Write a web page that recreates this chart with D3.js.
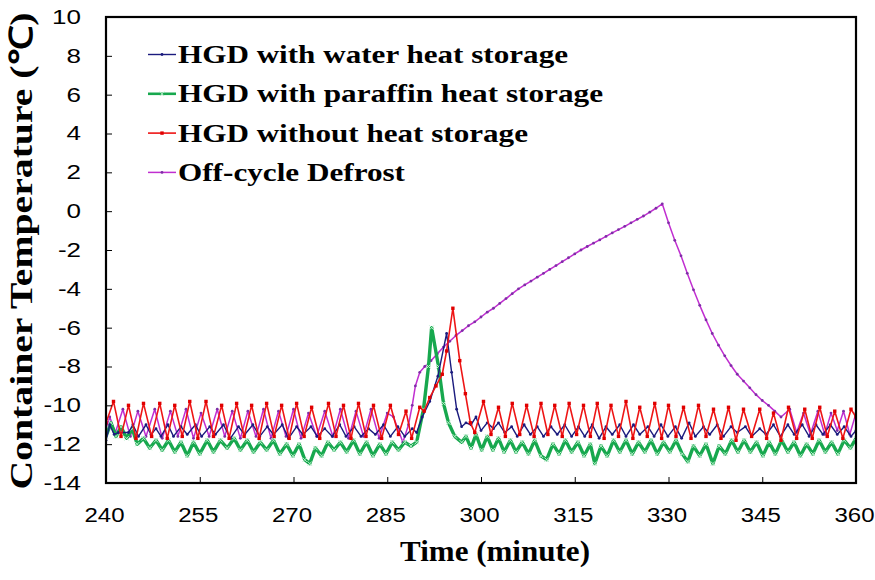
<!DOCTYPE html>
<html lang="en">

<head>
    <meta charset="UTF-8" />
    <title>Container Temperature</title>
    <script src="https://cdn.jsdelivr.net/npm/d3@7"></script>
    <style>
        body { margin: 0; background: #fff; }
        svg { display: block; }
    </style>
</head>

<body>
    <svg width="875" height="580"></svg>
    <script>
        // [time (minute), temperature (C)]
        const waterData = [
            [240.0, -11.8], [240.6, -11.0], [241.3, -11.5], [242.0, -11.4], [243.6, -11.4], [244.3, -11.0],
            [245.2, -11.6], [246.4, -11.0], [247.2, -11.5], [248.0, -11.2], [248.8, -11.6], [249.9, -11.0],
            [250.8, -11.6], [252.0, -11.1], [253.0, -11.5], [254.3, -11.0], [255.3, -11.6], [256.6, -11.1],
            [257.5, -11.5], [258.8, -11.0], [259.9, -11.7], [261.2, -11.1], [262.2, -11.5], [263.5, -11.0],
            [264.6, -11.6], [265.8, -11.1], [266.8, -11.5], [268.2, -11.0], [269.2, -11.7], [270.5, -11.1],
            [271.5, -11.5], [272.8, -11.1], [273.8, -11.6], [275.0, -11.2], [276.2, -11.6], [277.4, -11.0],
            [278.4, -11.6], [279.7, -11.1], [280.8, -11.6], [282.0, -11.2], [283.1, -11.5], [284.4, -11.0],
            [285.5, -11.6], [286.7, -11.1], [287.8, -11.6], [289.0, -11.2], [289.7, -11.4], [290.6, -10.6],
            [291.8, -9.8], [293.1, -8.5], [294.5, -6.3], [295.3, -8.3], [296.1, -10.2], [296.9, -11.1],
            [297.6, -10.9], [298.4, -11.0], [299.2, -10.6], [300.0, -11.3], [301.0, -10.9], [302.0, -11.2],
            [302.8, -10.9], [303.8, -11.4], [304.9, -11.1], [305.8, -11.6], [306.9, -11.0], [307.9, -11.5],
            [309.0, -11.1], [310.0, -11.6], [311.2, -11.1], [312.2, -11.5], [313.4, -11.0], [314.5, -11.6],
            [315.6, -11.1], [316.6, -11.6], [317.8, -11.0], [318.9, -11.7], [320.0, -11.1], [321.0, -11.5],
            [322.2, -11.0], [323.2, -11.6], [324.4, -11.0], [325.4, -11.5], [326.7, -11.1], [327.7, -11.6],
            [328.8, -11.0], [329.9, -11.6], [331.1, -11.1], [332.1, -11.7], [333.3, -10.9], [334.3, -11.6],
            [335.6, -11.1], [336.6, -11.5], [337.8, -11.0], [338.8, -11.6], [340.0, -11.1], [341.0, -11.4],
            [342.3, -11.1], [343.3, -11.6], [344.6, -11.2], [345.6, -11.5], [346.8, -11.0], [347.9, -11.6],
            [349.1, -11.0], [350.1, -11.5], [351.4, -11.0], [352.5, -11.6], [353.6, -11.0], [354.7, -11.5],
            [355.9, -11.0], [357.0, -11.5], [358.1, -11.1], [359.2, -11.6], [360.0, -11.3]
        ];

        const paraffinData = [
            [240.0, -11.6], [240.8, -10.9], [241.6, -11.6], [242.4, -11.1], [243.3, -11.7], [244.2, -11.2],
            [245.0, -12.0], [246.0, -11.7], [247.0, -12.2], [248.0, -11.8], [249.0, -12.3], [250.0, -11.8],
            [251.0, -12.4], [252.0, -11.9], [253.0, -12.6], [254.0, -11.9], [255.0, -12.5], [256.2, -11.8],
            [257.2, -12.4], [258.3, -11.8], [259.4, -12.2], [260.5, -11.7], [261.5, -12.3], [262.6, -11.8],
            [263.6, -12.4], [264.7, -11.9], [265.7, -12.3], [266.8, -11.8], [267.8, -12.5], [268.9, -12.0],
            [269.9, -12.6], [270.9, -12.0], [271.8, -12.8], [272.6, -13.0], [273.5, -12.2], [274.5, -12.6],
            [275.5, -11.9], [276.5, -12.3], [277.5, -11.9], [278.5, -12.4], [279.6, -11.8], [280.6, -12.5],
            [281.7, -11.9], [282.7, -12.6], [283.8, -12.0], [284.8, -12.5], [285.8, -11.9], [286.8, -12.3],
            [287.8, -11.9], [288.8, -12.1], [289.7, -11.9], [290.8, -10.2], [291.6, -8.0], [292.1, -6.0],
            [293.2, -8.0], [294.0, -9.9], [294.8, -10.9], [295.8, -11.6], [296.9, -11.9], [297.6, -11.6],
            [298.4, -12.2], [299.2, -11.5], [300.1, -12.3], [301.0, -11.6], [301.9, -12.3], [302.8, -11.7],
            [303.7, -12.4], [304.7, -11.8], [305.6, -12.4], [306.6, -11.9], [307.6, -12.5], [308.6, -11.8],
            [309.6, -12.6], [310.5, -12.8], [311.5, -12.0], [312.5, -12.5], [313.5, -11.8], [314.5, -12.4],
            [315.5, -11.9], [316.5, -12.6], [317.5, -12.0], [318.2, -13.0], [319.2, -12.1], [320.2, -12.6],
            [321.2, -11.8], [322.2, -12.4], [323.2, -11.8], [324.2, -12.5], [325.2, -11.9], [326.2, -12.4],
            [327.2, -11.8], [328.2, -12.5], [329.2, -11.9], [330.2, -12.4], [331.2, -11.8], [332.2, -12.5],
            [333.1, -12.9], [334.0, -12.1], [335.0, -12.6], [336.0, -12.0], [337.1, -13.0], [338.1, -12.1],
            [339.1, -12.5], [340.1, -11.8], [341.1, -12.4], [342.1, -11.8], [343.1, -12.4], [344.1, -11.9],
            [345.1, -12.6], [346.1, -11.9], [347.1, -12.5], [348.1, -11.8], [349.1, -12.4], [350.1, -11.9],
            [351.1, -12.6], [352.1, -12.0], [353.1, -12.5], [354.1, -11.8], [355.1, -12.4], [356.1, -11.9],
            [357.1, -12.5], [358.1, -11.8], [359.1, -12.2], [360.0, -11.7]
        ];

        const noStorageData = [
            [240.0, -10.9], [241.2, -9.8], [242.4, -11.6], [243.6, -10.0], [244.8, -11.7], [246.0, -9.9],
            [247.3, -11.6], [248.6, -9.9], [249.8, -11.7], [251.0, -10.0], [252.2, -11.6], [253.4, -9.8],
            [254.7, -11.7], [256.0, -9.8], [257.2, -11.6], [258.5, -10.0], [259.7, -11.7], [260.9, -9.9],
            [262.1, -11.6], [263.3, -10.0], [264.5, -11.7], [265.7, -9.9], [266.9, -11.6], [268.1, -10.0],
            [269.3, -11.7], [270.5, -9.9], [271.7, -11.6], [272.9, -10.1], [274.2, -11.7], [275.6, -9.9],
            [276.8, -11.6], [278.0, -10.0], [279.2, -11.7], [280.4, -9.9], [281.6, -11.6], [282.8, -10.0],
            [284.1, -11.7], [285.5, -10.0], [286.8, -11.5], [288.0, -10.3], [288.9, -11.7], [290.2, -10.1],
            [290.9, -10.3], [291.8, -9.6], [292.8, -9.0], [293.8, -8.4], [294.5, -7.2], [295.5, -5.0],
            [296.6, -7.7], [297.5, -9.4], [298.3, -10.9], [299.0, -11.4], [300.4, -9.8], [301.6, -11.5],
            [302.8, -10.1], [303.9, -11.6], [305.0, -9.9], [306.2, -11.5], [307.3, -10.0], [308.5, -11.6],
            [309.6, -9.9], [310.7, -11.5], [311.8, -10.0], [313.0, -11.6], [314.1, -9.9], [315.3, -11.5],
            [316.4, -10.0], [317.5, -11.6], [318.6, -9.9], [319.7, -11.7], [320.8, -10.0], [322.0, -11.6],
            [323.2, -9.8], [324.3, -11.7], [325.4, -10.1], [326.6, -11.6], [327.8, -9.9], [328.9, -11.7],
            [330.0, -10.0], [331.2, -11.6], [332.4, -10.1], [333.6, -11.7], [334.8, -10.0], [336.0, -11.6],
            [337.2, -10.2], [338.4, -11.7], [339.6, -10.1], [340.8, -11.8], [342.0, -10.2], [343.3, -11.6],
            [344.6, -10.2], [345.7, -11.7], [346.8, -10.4], [348.0, -11.8], [349.2, -10.1], [350.5, -11.7],
            [351.8, -10.2], [353.0, -11.7], [354.2, -10.1], [355.4, -11.6], [356.6, -10.3], [357.9, -11.7],
            [359.2, -10.2], [360.0, -10.6]
        ];

        const offCycleData = [
            [240.0, -11.2], [240.6, -10.6], [241.5, -11.4], [242.7, -10.2], [243.9, -11.6], [245.1, -10.3],
            [246.4, -11.6], [247.8, -10.2], [249.0, -11.7], [250.3, -10.3], [251.5, -11.6], [252.8, -10.2],
            [254.0, -11.7], [255.2, -10.4], [256.5, -11.6], [257.8, -10.2], [259.0, -11.6], [260.2, -10.3],
            [261.5, -11.7], [262.7, -10.3], [264.0, -11.6], [265.2, -10.2], [266.4, -11.7], [267.6, -10.3],
            [268.8, -11.6], [270.0, -10.2], [271.2, -11.7], [272.4, -10.4], [273.7, -11.6], [275.0, -10.3],
            [276.3, -11.6], [277.5, -10.2], [278.8, -11.7], [280.0, -10.3], [281.2, -11.6], [282.4, -10.2],
            [283.7, -11.7], [285.0, -10.4], [286.0, -10.6], [287.5, -11.9], [288.4, -11.0], [289.0, -10.0],
            [289.5, -9.0], [290.2, -8.3], [291, -8.0], [292, -7.7], [293, -7.35], [294, -7.0], [295, -6.7],
            [296, -6.4], [297, -6.15], [298, -5.9], [299, -5.7], [300, -5.45], [301, -5.2], [302, -5.0],
            [303, -4.75], [304, -4.5], [305, -4.25], [306, -4.0], [307, -3.8], [308, -3.6], [309, -3.4],
            [310, -3.2], [311, -3.0], [312, -2.8], [313, -2.6], [314, -2.4], [315, -2.2], [316, -2.0],
            [317, -1.82], [318, -1.65], [319, -1.48], [320, -1.3], [321, -1.12], [322, -0.95], [323, -0.78],
            [324, -0.6], [325, -0.42], [326, -0.25], [327, -0.05], [328, 0.15], [329, 0.38],
            [330, -0.6], [331, -1.5], [332, -2.3], [333, -3.2], [334, -4.05], [335, -4.85], [336, -5.6],
            [337, -6.3], [338, -6.9], [339, -7.45], [340, -7.95], [341, -8.4], [342, -8.75], [343, -9.1],
            [344, -9.45], [345, -9.75], [346, -10.0], [347, -10.3], [348, -10.6], [349.4, -10.2],
            [350.5, -11.4], [351.6, -10.4], [352.7, -11.5], [353.9, -10.3], [355.0, -11.5], [356.0, -10.4],
            [357.0, -11.3], [358.0, -10.3], [359.0, -11.5], [360.0, -10.4]
        ];

        const seriesNames = [
            "HGD with water heat storage",
            "HGD with paraffin heat storage",
            "HGD without heat storage",
            "Off-cycle Defrost"
        ];
        const xTicks = [240, 255, 270, 285, 300, 315, 330, 345, 360];
        const yTicks = [10, 8, 6, 4, 2, 0, -2, -4, -6, -8, -10, -12, -14];

        const svg = d3.select("svg");
        const plotLeft = 106, plotRight = 856, plotTop = 17, plotBottom = 483;

        const x = d3.scaleLinear().domain([240, 360]).range([plotLeft, plotRight]);
        const y = d3.scaleLinear().domain([-14, 10]).range([plotBottom, plotTop]);

        // series styles, same order as seriesNames
        const styles = [
            { data: waterData, color: "#1b1b7e", width: 1.4, marker: "dot", mcolor: "#1b1b7e" },
            { data: paraffinData, color: "#17a84e", width: 3.4, marker: "cross", mcolor: "#b5ecc8" },
            { data: noStorageData, color: "#ee1515", width: 1.6, marker: "square", mcolor: "#e00000" },
            { data: offCycleData, color: "#c02ed0", width: 1.5, marker: "dot", mcolor: "#7d2ea6" }
        ];

        svg.append("clipPath").attr("id", "plot")
            .append("rect")
            .attr("x", plotLeft).attr("y", plotTop)
            .attr("width", plotRight - plotLeft).attr("height", plotBottom - plotTop);

        const line = d3.line().x(d => x(d[0])).y(d => y(d[1]));

        function drawMarkers(parent, pts, s) {
            const g = parent.append("g");
            if (s.marker === "square") {
                g.selectAll("rect").data(pts).join("rect")
                    .attr("x", d => x(d[0]) - 1.7).attr("y", d => y(d[1]) - 1.7)
                    .attr("width", 3.4).attr("height", 3.4)
                    .attr("fill", s.mcolor);
            } else if (s.marker === "cross") {
                g.selectAll("path").data(pts).join("path")
                    .attr("d", d => {
                        const cx = x(d[0]), cy = y(d[1]), r = 2.2;
                        return `M${cx - r},${cy - r}L${cx + r},${cy + r}M${cx - r},${cy + r}L${cx + r},${cy - r}`;
                    })
                    .attr("stroke", s.mcolor).attr("stroke-width", 1).attr("fill", "none");
            } else {
                g.selectAll("circle").data(pts).join("circle")
                    .attr("cx", d => x(d[0])).attr("cy", d => y(d[1]))
                    .attr("r", 1.4)
                    .attr("fill", s.mcolor);
            }
        }

        const plot = svg.append("g").attr("clip-path", "url(#plot)");
        // draw order: off-cycle underneath, red on top
        [3, 1, 0, 2].forEach(i => {
            const s = styles[i];
            const g = plot.append("g");
            g.append("path")
                .datum(s.data)
                .attr("d", line)
                .attr("fill", "none")
                .attr("stroke", s.color)
                .attr("stroke-width", s.width)
                .attr("stroke-linejoin", "round");
            drawMarkers(g, s.data, s);
        });

        // axes, ticks pointing inwards
        const xAxis = svg.append("g")
            .attr("transform", `translate(0,${plotBottom})`)
            .call(d3.axisBottom(x).tickValues(xTicks).tickSize(-6).tickPadding(25).tickFormat(d => String(d)));
        const yAxis = svg.append("g")
            .attr("transform", `translate(${plotLeft},0)`)
            .call(d3.axisLeft(y).tickValues(yTicks).tickSize(-6).tickPadding(25).tickFormat(d => String(d)));

        [xAxis, yAxis].forEach(a => {
            a.select(".domain").remove();
            a.selectAll(".tick line").attr("stroke", "#000").attr("stroke-width", 1);
            a.selectAll("text")
                .attr("font-family", "'Liberation Sans', Arial, sans-serif")
                .attr("font-size", 20)
                .attr("fill", "#000");
        });
        xAxis.selectAll("text").attr("dx", -2);
        xAxis.selectAll("text").each(function () {
            this.setAttribute("textLength", this.getComputedTextLength() * 1.2);
            this.setAttribute("lengthAdjust", "spacingAndGlyphs");
        });
        yAxis.selectAll("text").each(function () {
            this.setAttribute("textLength", this.getComputedTextLength() * 1.3);
            this.setAttribute("lengthAdjust", "spacingAndGlyphs");
        });

        // frame
        svg.append("rect")
            .attr("x", plotLeft).attr("y", plotTop)
            .attr("width", plotRight - plotLeft).attr("height", plotBottom - plotTop)
            .attr("fill", "none").attr("stroke", "#000").attr("stroke-width", 2.2);

        // axis titles
        svg.append("text")
            .attr("x", 495).attr("y", 561)
            .attr("text-anchor", "middle")
            .attr("font-family", "'Liberation Serif', 'Times New Roman', serif")
            .attr("font-weight", "bold").attr("font-size", 29)
            .attr("textLength", 190).attr("lengthAdjust", "spacingAndGlyphs")
            .text("Time (minute)");

        svg.append("text")
            .attr("transform", "translate(32,251) rotate(-90)")
            .attr("text-anchor", "middle")
            .attr("font-family", "'Liberation Serif', 'Times New Roman', serif")
            .attr("font-weight", "bold").attr("font-size", 32)
            .attr("textLength", 477).attr("lengthAdjust", "spacingAndGlyphs")
            .text("Container Temperature (℃)");

        // legend
        const legendWidths = [390, 425, 350, 227];
        const legend = svg.append("g");
        seriesNames.forEach((name, i) => {
            const s = styles[i];
            const base = 63 + i * 39.3;
            const ly = base - 8.5;
            legend.append("line")
                .attr("x1", 148).attr("x2", 176).attr("y1", ly).attr("y2", ly)
                .attr("stroke", s.color).attr("stroke-width", Math.min(s.width, 2.6));
            drawMarkers(legend, [[x.invert(162), y.invert(ly)]], s);
            legend.append("text")
                .attr("x", 178).attr("y", base)
                .attr("font-family", "'Liberation Serif', 'Times New Roman', serif")
                .attr("font-weight", "bold").attr("font-size", 26)
                .attr("textLength", legendWidths[i]).attr("lengthAdjust", "spacingAndGlyphs")
                .text(name);
        });
    </script>
</body>

</html>
